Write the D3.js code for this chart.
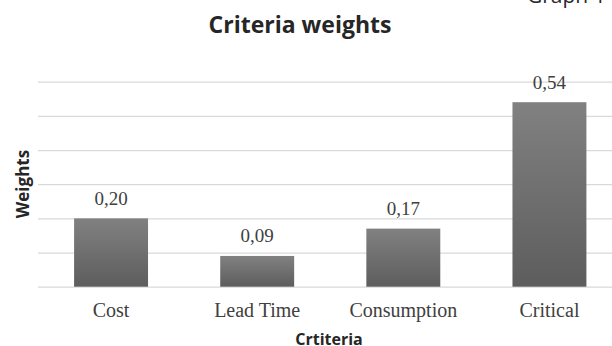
<!DOCTYPE html>
<html>
<head>
<meta charset="utf-8">
<script src="https://cdn.jsdelivr.net/npm/d3@7/dist/d3.min.js"></script>
<style>
  html, body { margin: 0; padding: 0; background: #fff; }
  svg { display: block; }
</style>
</head>
<body>
<svg id="chart" width="612" height="346"></svg>
<script>
// Criteria weights data
const categories = ["Cost", "Lead Time", "Consumption", "Critical"];
const weights = [0.20, 0.09, 0.17, 0.54];
const valueLabels = ["0,20", "0,09", "0,17", "0,54"];
const yTicks = [0, 0.1, 0.2, 0.3, 0.4, 0.5, 0.6];

const svg = d3.select("#chart");

const x = d3.scaleBand()
  .domain(categories)
  .range([38, 622.5])
  .paddingInner(0.494)
  .paddingOuter(0.247);

const y = d3.scaleLinear()
  .domain([0, 0.6])
  .range([286.7, 81.7]);

// vertical gradient fill for the bars
const defs = svg.append("defs");
const grad = defs.append("linearGradient")
  .attr("id", "barGrad")
  .attr("x1", 0).attr("y1", 0).attr("x2", 0).attr("y2", 1);
grad.append("stop").attr("offset", "0%").attr("stop-color", "#818181");
grad.append("stop").attr("offset", "100%").attr("stop-color", "#5d5d5d");

// horizontal gridlines
const grid = d3.axisLeft(y)
  .tickValues(yTicks)
  .tickSize(-(612 - 38))
  .tickFormat("");
svg.append("g")
  .attr("transform", "translate(38,0)")
  .call(grid)
  .call(g => g.select(".domain").remove())
  .call(g => g.selectAll("line").attr("stroke", "#d9d9d9").attr("stroke-width", 1.2));

// bars
svg.append("g")
  .selectAll("rect")
  .data(weights)
  .join("rect")
  .attr("x", (d, i) => x(categories[i]))
  .attr("y", d => y(d))
  .attr("width", x.bandwidth())
  .attr("height", d => y(0) - y(d))
  .attr("fill", "url(#barGrad)");

// value labels
svg.append("g")
  .selectAll("text")
  .data(weights)
  .join("text")
  .attr("x", (d, i) => x(categories[i]) + x.bandwidth() / 2)
  .attr("y", d => y(d) - 13.5)
  .attr("text-anchor", "middle")
  .attr("font-family", "'Liberation Serif', 'Times New Roman', serif")
  .attr("font-size", 19)
  .attr("fill", "#404040")
  .text((d, i) => valueLabels[i]);

// category axis labels
const xAxis = d3.axisBottom(x).tickSize(0).tickPadding(0);
svg.append("g")
  .attr("transform", "translate(0,316.5)")
  .call(xAxis)
  .call(g => g.select(".domain").remove())
  .call(g => g.selectAll("text")
    .attr("dy", 0)
    .attr("y", 0)
    .attr("font-family", "'Liberation Serif', 'Times New Roman', serif")
    .attr("font-size", 20)
    .attr("fill", "#404040"));

// title
svg.append("text")
  .attr("x", 300)
  .attr("y", 33)
  .attr("text-anchor", "middle")
  .attr("font-family", "'Open Sans', sans-serif")
  .attr("font-weight", "bold")
  .attr("font-size", 23)
  .attr("fill", "#262626")
  .text("Criteria weights");

// axis titles
svg.append("text")
  .attr("transform", "translate(28.5,184) rotate(-90)")
  .attr("text-anchor", "middle")
  .attr("font-family", "'Open Sans', sans-serif")
  .attr("font-weight", "bold")
  .attr("font-size", 17)
  .attr("fill", "#262626")
  .text("Weights");

svg.append("text")
  .attr("x", 329)
  .attr("y", 345)
  .attr("text-anchor", "middle")
  .attr("font-family", "'Open Sans', sans-serif")
  .attr("font-weight", "bold")
  .attr("font-size", 16)
  .attr("fill", "#262626")
  .text("Crtiteria");

// caption partly above the top edge
svg.append("text")
  .attr("x", 527)
  .attr("y", 3)
  .attr("font-family", "'Open Sans', sans-serif")
  .attr("font-size", 21)
  .attr("fill", "#262626")
  .text("Graph 1");
</script>
</body>
</html>
